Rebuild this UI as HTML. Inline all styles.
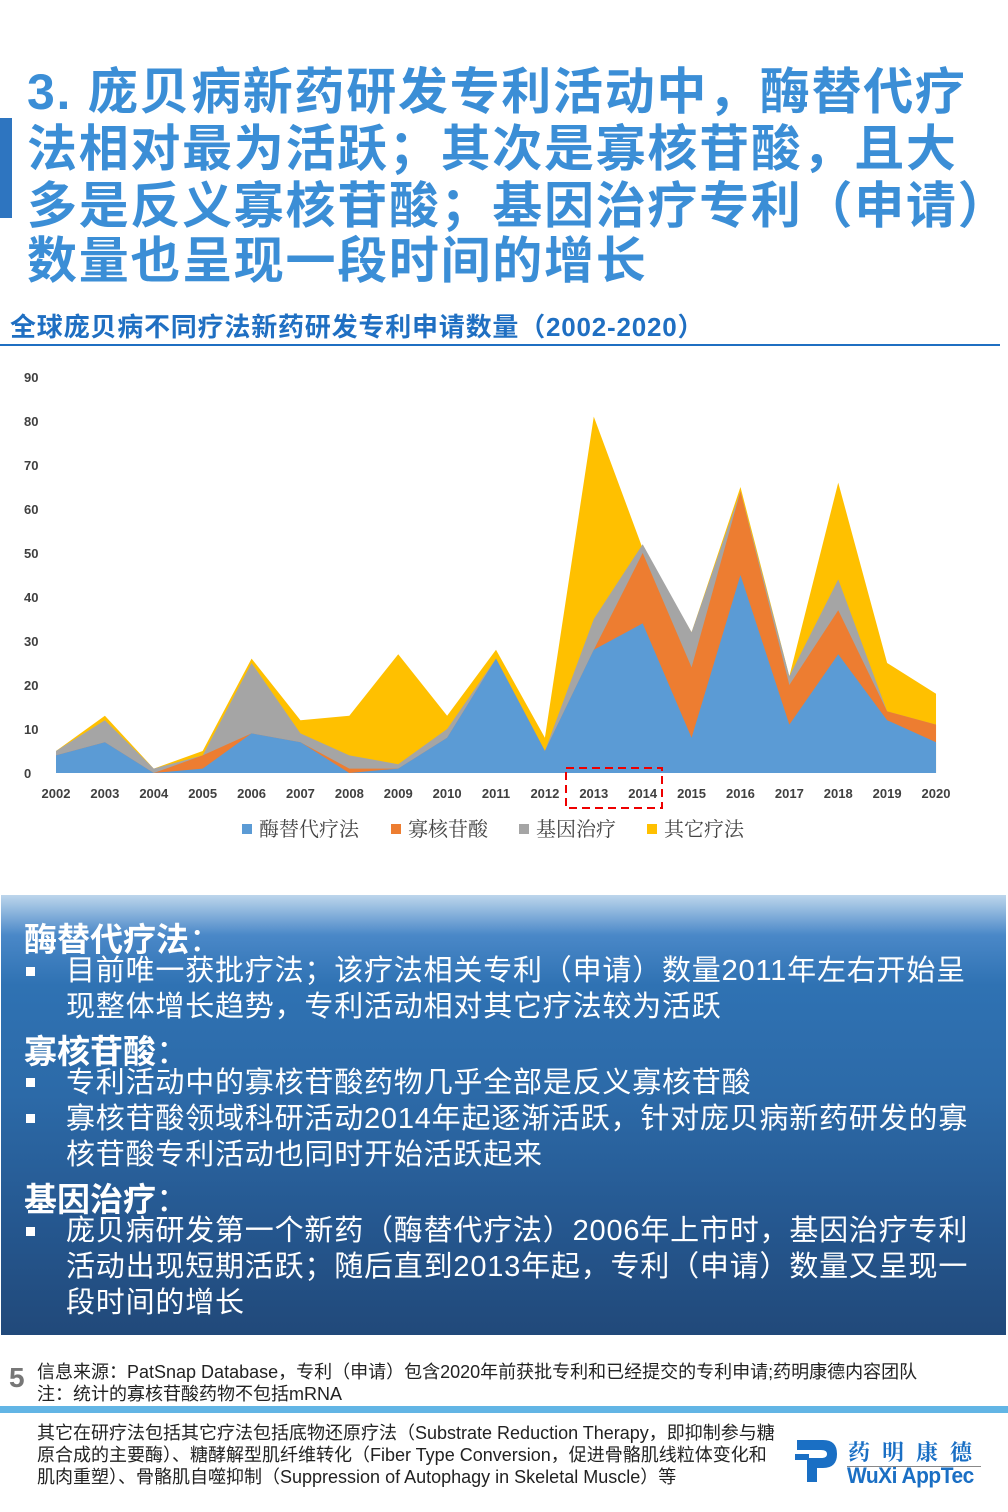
<!DOCTYPE html>
<html><head><meta charset="utf-8"><style>
body{margin:0;width:1008px;height:1512px;position:relative;background:#fff;overflow:hidden;font-family:"Liberation Sans","Noto Sans CJK SC",sans-serif}
.a{position:absolute;white-space:nowrap}
.t{left:27px;font-size:50px;font-weight:bold;color:#3b8ed6;line-height:57px;letter-spacing:1.7px}
.bx{position:absolute;left:1px;top:895px;width:1005px;height:440px;background:linear-gradient(#bdd6ec 0px,#4a88c8 40px,#2f72b3 90px,#2c6aa8 200px,#25578f 330px,#21497a 440px)}
.h{position:absolute;left:24px;color:#fff;font-size:33px;font-weight:bold}
.p{position:absolute;left:66px;color:#fff;font-size:29px;line-height:36px;letter-spacing:0.8px}
.sq{position:absolute;left:26px;width:9px;height:9px;background:#fff}
.f{font-size:18px;color:#222}
</style></head><body>
<div class="a" style="left:0;top:118px;width:12px;height:100px;background:#2e75c0"></div>
<div class="a t" style="top:64px">3. 庞贝病新药研发专利活动中，酶替代疗</div>
<div class="a t" style="top:121px">法相对最为活跃；其次是寡核苷酸，且大</div>
<div class="a t" style="top:178px">多是反义寡核苷酸；基因治疗专利（申请）</div>
<div class="a t" style="top:233px">数量也呈现一段时间的增长</div>
<div class="a" style="left:10px;top:307px;font-size:26px;font-weight:bold;color:#1f6fc2;letter-spacing:0.8px">全球庞贝病不同疗法新药研发专利申请数量（2002-2020）</div>
<div class="a" style="left:0;top:344px;width:1000px;height:2px;background:#1f6fc2"></div>
<svg class="a" style="left:0;top:360px" width="1008" height="490" viewBox="0 360 1008 490" id="ch"></svg>
<div class="bx"></div>
<div class="h" style="top:913px">酶替代疗法<span style="font-weight:normal">：</span></div>
<div class="sq" style="top:967px"></div>
<div class="p" style="top:953px">目前唯一获批疗法；该疗法相关专利（申请）数量2011年左右开始呈<br>现整体增长趋势，专利活动相对其它疗法较为活跃</div>
<div class="h" style="top:1025px">寡核苷酸<span style="font-weight:normal">：</span></div>
<div class="sq" style="top:1078px"></div>
<div class="p" style="top:1065px">专利活动中的寡核苷酸药物几乎全部是反义寡核苷酸</div>
<div class="sq" style="top:1114px"></div>
<div class="p" style="top:1101px">寡核苷酸领域科研活动2014年起逐渐活跃，针对庞贝病新药研发的寡<br>核苷酸专利活动也同时开始活跃起来</div>
<div class="h" style="top:1173px">基因治疗<span style="font-weight:normal">：</span></div>
<div class="sq" style="top:1227px"></div>
<div class="p" style="top:1213px">庞贝病研发第一个新药（酶替代疗法）2006年上市时，基因治疗专利<br>活动出现短期活跃；随后直到2013年起，专利（申请）数量又呈现一<br>段时间的增长</div>
<div class="a" style="left:9px;top:1362px;font-size:28px;font-weight:bold;color:#777">5</div>
<div class="a f" style="left:37px;top:1358px">信息来源：PatSnap Database，专利（申请）包含2020年前获批专利和已经提交的专利申请;药明康德内容团队</div>
<div class="a f" style="left:37px;top:1380px">注：统计的寡核苷酸药物不包括mRNA</div>
<div class="a" style="left:0;top:1406px;width:1008px;height:7px;background:#62b5e5"></div>
<div class="a f" style="left:37px;top:1422px;line-height:22px">其它在研疗法包括其它疗法包括底物还原疗法（Substrate Reduction Therapy，即抑制参与糖<br>原合成的主要酶）、糖酵解型肌纤维转化（Fiber Type Conversion，促进骨骼肌线粒体变化和<br>肌肉重塑）、骨骼肌自噬抑制（Suppression of Autophagy in Skeletal Muscle）等</div>
<svg class="a" style="left:795px;top:1436px" width="45" height="50"><path d="M2 4 H28 Q42 4 42 18 Q42 32 28 32 H22 V46 H12 V22 H26 Q32 22 32 18 Q32 14 26 14 H2 Z" fill="#1a6fc4"/><path d="M0 18 H14 V24 H0Z" fill="#1a6fc4"/></svg>
<div class="a" style="left:848px;top:1436px;font-size:22px;color:#1a6fc4;letter-spacing:12px;font-family:'Noto Serif CJK SC',serif;font-weight:bold">药明康德</div>
<div class="a" style="left:847px;top:1466px;width:134px;height:1px;background:#888"></div>
<div class="a" style="left:847px;top:1463px;font-size:22px;font-weight:bold;color:#1a6fc4;letter-spacing:-0.5px;transform:scaleX(0.95);transform-origin:left">WuXi AppTec</div>
<script>
var B=[4,7,0,1,9,7,0,1,8,26,5,28,34,8,45,11,27,12,7],
O=[4,7,0,4,9,7,1,1,8,26,5,28,50,24,64,20,37,14,11],
G=[5,12,1,4,25,9,4,2,10,26,5,35,52,32,64,22,44,14,11],
Y=[5,13,1,5,26,12,13,27,13,28,8,81,51,32,65,22,66,25,18];
function X(i){return 56+i*48.89}function V(v){return 773-v*4.4}
function poly(a,c){var p=[];for(var i=0;i<19;i++)p.push(X(i)+','+V(a[i]));p.push(X(18)+','+V(0));p.push(X(0)+','+V(0));return '<polygon points="'+p.join(' ')+'" fill="'+c+'"/>'}
var s='';
for(var k=0;k<=9;k++)s+='<text x="24" y="'+(V(k*10)+5)+'" font-size="13" font-weight="bold" fill="#404040">'+(k*10)+'</text>';
s+=poly(Y,'#ffc000')+poly(G,'#a5a5a5')+poly(O,'#ed7d31')+poly(B,'#5b9bd5');
for(var i=0;i<19;i++)s+='<text x="'+X(i)+'" y="798" font-size="13" font-weight="bold" fill="#404040" text-anchor="middle">'+(2002+i)+'</text>';
s+='<rect x="566" y="768" width="96" height="40" fill="none" stroke="#e00" stroke-width="2" stroke-dasharray="8,5"/>';
var L=[['#5b9bd5','酶替代疗法',242],['#ed7d31','寡核苷酸',391],['#a5a5a5','基因治疗',519],['#ffc000','其它疗法',647]];
L.forEach(function(l){s+='<rect x="'+l[2]+'" y="824" width="10" height="10" fill="'+l[0]+'"/><text x="'+(l[2]+17)+'" y="836" font-size="20" fill="#444" font-family="Noto Serif CJK SC,serif">'+l[1]+'</text>'});
document.getElementById('ch').innerHTML=s;
</script>
</body></html>
